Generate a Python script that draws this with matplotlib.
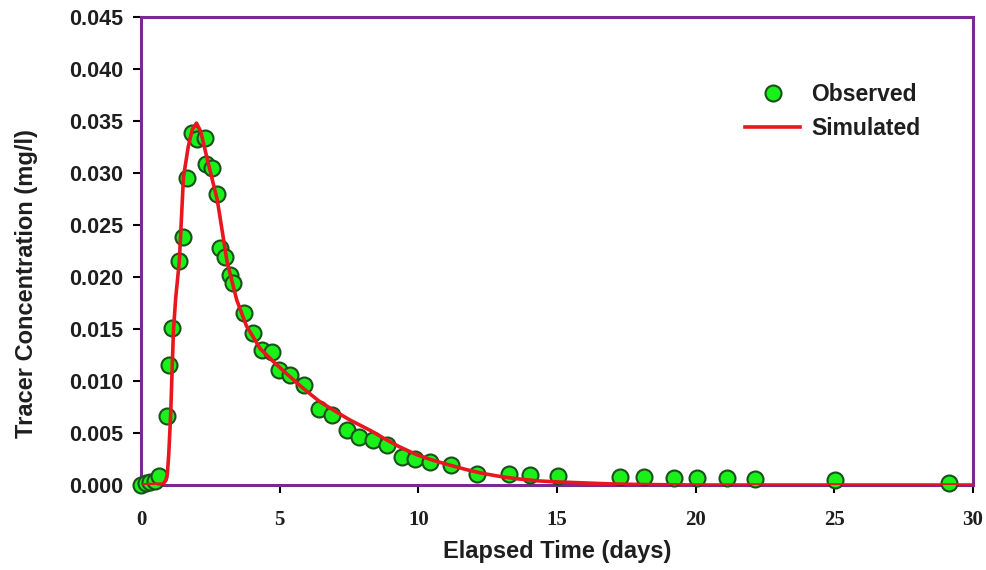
import matplotlib.pyplot as plt

# observed tracer data (days, mg/l)
obs_t = [0.0, 0.17, 0.33, 0.5, 0.63, 0.95, 1.02, 1.11, 1.38, 1.5, 1.67, 1.83, 2.01,
         2.31, 2.35, 2.55, 2.73, 2.85, 3.03, 3.19, 3.33, 3.72, 4.02, 4.36, 4.72,
         4.96, 5.38, 5.86, 6.4, 6.88, 7.42, 7.85, 8.38, 8.87, 9.41, 9.89, 10.43,
         11.16, 12.12, 13.26, 14.04, 15.03, 17.27, 18.13, 19.22, 20.04, 21.14,
         22.13, 25.02, 29.12]
obs_c = [0.0, 0.0002, 0.0003, 0.0004, 0.0009, 0.0066, 0.0115, 0.0151, 0.0215, 0.0238,
         0.0295, 0.0338, 0.0333, 0.0334, 0.0309, 0.0305, 0.0280, 0.0228, 0.0219,
         0.0202, 0.0194, 0.0165, 0.0146, 0.0130, 0.0128, 0.0111, 0.0106, 0.0096,
         0.0073, 0.0067, 0.0053, 0.0046, 0.0043, 0.0038, 0.0027, 0.0025, 0.0022,
         0.0019, 0.0011, 0.0011, 0.0010, 0.0009, 0.0008, 0.0008, 0.0007, 0.0007,
         0.0007, 0.0006, 0.0005, 0.0002]

# simulated curve
sim_t = [0.0, 0.8, 0.9, 0.95, 1.0, 1.07, 1.12, 1.17, 1.25, 1.38, 1.53, 1.7, 1.85,
         2.0, 2.15, 2.4, 2.75, 3.1, 3.45, 3.8, 4.3, 4.8, 5.25, 5.8, 6.45, 7.0, 7.5,
         8.3, 8.75, 9.3, 9.95, 10.5, 11.15, 11.7, 12.35, 13.0, 13.55, 14.3, 15.0,
         16.0, 17.0, 18.0, 20.0, 30.0]
sim_c = [0.0, 0.0001, 0.0005, 0.0011, 0.0030, 0.0069, 0.0110, 0.0149, 0.0180, 0.0215,
         0.0296, 0.0325, 0.0342, 0.0348, 0.0340, 0.0312, 0.0274, 0.0215, 0.0178,
         0.0153, 0.0131, 0.0118, 0.0107, 0.0094, 0.0080, 0.0071, 0.0063, 0.0052,
         0.0045, 0.0037, 0.0029, 0.0024, 0.0019, 0.0015, 0.0011, 0.0008, 0.0006,
         0.0004, 0.0003, 0.0002, 0.0001, 0.00005, 0.0, 0.0]

x_ticks = [0, 5, 10, 15, 20, 25, 30]
y_ticks = [0.000, 0.005, 0.010, 0.015, 0.020, 0.025, 0.030, 0.035, 0.040, 0.045]

plt.rcParams['font.family'] = ['Liberation Sans', 'DejaVu Sans']
plt.rcParams['font.weight'] = 'bold'
txt = '#1e1e1e'

fig = plt.figure(figsize=(9.87, 5.70), dpi=100)
ax = fig.add_axes([0.1429, 0.1491, 0.8429, 0.8211])

ax.plot(obs_t, obs_c, 'o', color='#1af01a', markeredgecolor='#1a501a',
        markeredgewidth=1.5, markersize=11.5, label='Observed', clip_on=False, zorder=3)
ax.plot(sim_t, sim_c, color='#e8161e', linewidth=2.6, label='Simulated', zorder=4)

ax.set_xlim(0, 30)
ax.set_ylim(0, 0.045)
ax.set_xticks(x_ticks)
ax.set_xticklabels([str(v) for v in x_ticks], family=['Liberation Serif', 'DejaVu Serif'],
                   fontsize=15, fontweight='bold', color=txt)
ax.set_yticks(y_ticks)
ax.set_yticklabels(['%.3f' % v for v in y_ticks], fontsize=15.5, fontweight='bold', color=txt)

for s in ax.spines.values():
    s.set_color('#7a2a8e')
    s.set_linewidth(2.2)
ax.tick_params(axis='x', direction='out', length=6, width=1.5, color='black', pad=12)
ax.tick_params(axis='y', direction='out', length=6, width=1.5, color='black', pad=7)

ax.set_xlabel('Elapsed Time (days)', fontsize=17, fontweight='bold', color=txt)
ax.set_ylabel('Tracer Concentration (mg/l)', fontsize=17, fontweight='bold', color=txt)
ax.xaxis.set_label_coords(0.5, -0.118)
ax.yaxis.set_label_coords(-0.124, 0.43)

leg = ax.legend(loc='upper left', bbox_to_anchor=(0.726, 0.858), frameon=False,
                numpoints=1, fontsize=16.5, handlelength=2.4, handletextpad=0.5,
                labelspacing=0.45, borderpad=0, borderaxespad=0)
for t in leg.get_texts():
    t.set_color(txt)

fig.savefig('out.png', dpi=100)
